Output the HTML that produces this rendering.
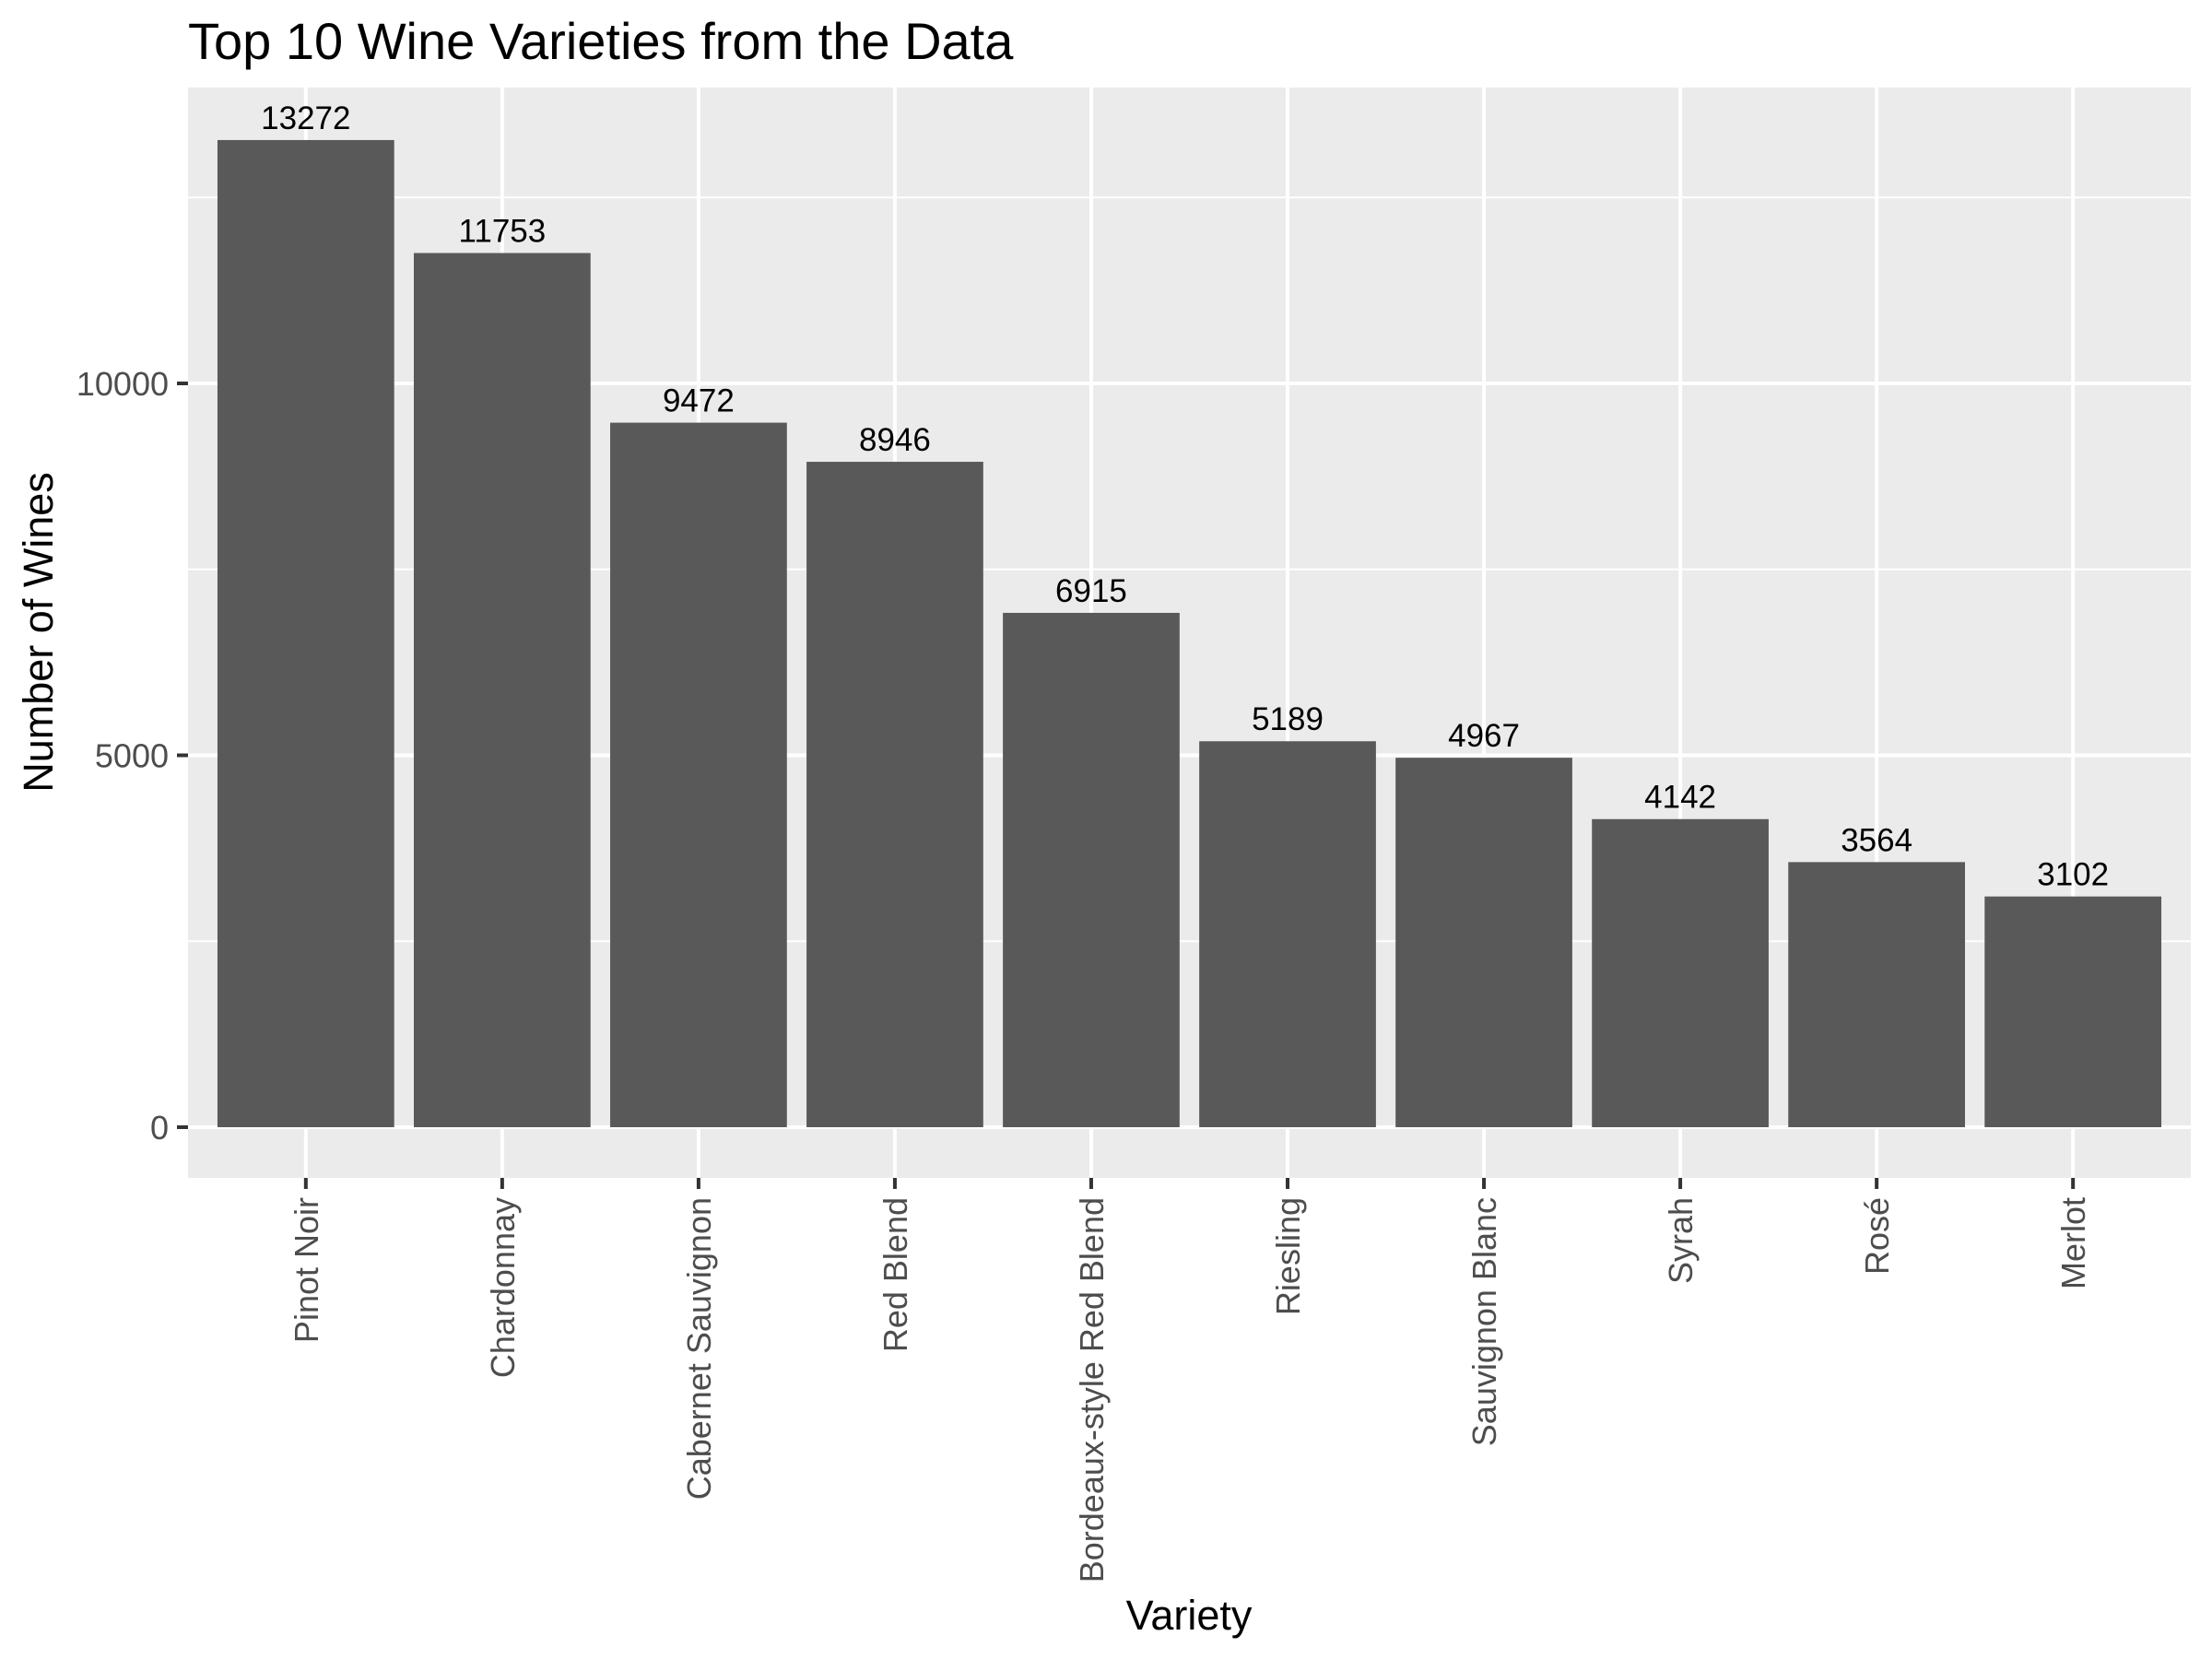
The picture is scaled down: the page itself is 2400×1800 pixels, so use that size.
<!DOCTYPE html>
<html><head><meta charset="utf-8"><style>
html,body{margin:0;padding:0;background:#fff;}
svg{display:block;font-family:"Liberation Sans",Arial,sans-serif;}
</style></head><body>
<svg id="chart" width="2400" height="1800" viewBox="0 0 2400 1800">
<rect x="0" y="0" width="2400" height="1800" fill="#fff"/>
<text x="204" y="64" font-size="56" fill="#000">Top 10 Wine Varieties from the Data</text>
<rect x="204" y="95" width="2173" height="1183" fill="#ebebeb"/>
<g id="grid"></g>
<g id="bars"></g>
<g id="labels"></g>
<g id="yaxis"></g>
<g id="xaxis"></g>
<text x="0" y="0" transform="translate(57,686) rotate(-90)" text-anchor="middle" font-size="45" fill="#000">Number of Wines</text>
<text x="1290" y="1768" text-anchor="middle" font-size="45" fill="#000">Variety</text>
</svg>
<script>
const categories = ["Pinot Noir","Chardonnay","Cabernet Sauvignon","Red Blend","Bordeaux-style Red Blend","Riesling","Sauvignon Blanc","Syrah","Rosé","Merlot"];
const counts = [13272,11753,9472,8946,6915,5189,4967,4142,3564,3102];
const yTicks = [0,5000,10000];
const yMinor = [2500,7500,12500];

const NS="http://www.w3.org/2000/svg";
const PL=204, PR=2377, PT=95, PB=1278;
const Y0=1223, PXU=(1223-416)/10000;
function y(v){return Y0 - v*PXU;}
const step=(PR-PL)/(categories.length-1+1.2);
function x(i){return PL + (i+0.6)*step;}
function mk(tag,attrs,parent){const e=document.createElementNS(NS,tag);for(const k in attrs)e.setAttribute(k,attrs[k]);parent.appendChild(e);return e;}

const grid=document.getElementById('grid');
yMinor.forEach(v=>{const yy=y(v); if(yy<PT)return;
 const l=mk('line',{x1:PL,x2:PR,y1:yy,y2:yy,stroke:'#fff','stroke-width':2},grid);
 
 });
yTicks.forEach(v=>{const yy=y(v);
 const l=mk('line',{x1:PL,x2:PR,y1:yy,y2:yy,stroke:'#fff','stroke-width':4},grid);
 
 });
categories.forEach((c,i)=>{const xx=x(i);
 const l=mk('line',{x1:xx,x2:xx,y1:PT,y2:PB,stroke:'#fff','stroke-width':4},grid);
 
 });

const bars=document.getElementById('bars'), labels=document.getElementById('labels');
const bw=step*0.9;
counts.forEach((v,i)=>{
 const r=mk('rect',{x:x(i)-bw/2,y:y(v),width:bw,height:y(0)-y(v),fill:'#595959'},bars);
 
 
 const t=mk('text',{x:x(i),y:y(v)-12,'text-anchor':'middle','font-size':35,fill:'#000'},labels);
 t.textContent=String(v);
 
 
});

const ya=document.getElementById('yaxis');
yTicks.forEach(v=>{const yy=y(v);
 const tk=mk('line',{x1:PL-12,x2:PL,y1:yy,y2:yy,stroke:'#333','stroke-width':4},ya);
 
 
 const t=mk('text',{x:PL-21,y:yy+13,'text-anchor':'end','font-size':36,fill:'#4d4d4d'},ya);
 t.textContent=String(v);
 
 });

const xa=document.getElementById('xaxis');
categories.forEach((c,i)=>{const xx=x(i);
 const tk=mk('line',{x1:xx,x2:xx,y1:PB,y2:PB+12,stroke:'#333','stroke-width':4},xa);
 
 
 const t=mk('text',{x:0,y:0,transform:'translate('+(xx+13)+','+(PB+21)+') rotate(-90)','text-anchor':'end','font-size':36,fill:'#4d4d4d'},xa);
 t.textContent=c;
 
 });
</script>
</body></html>
